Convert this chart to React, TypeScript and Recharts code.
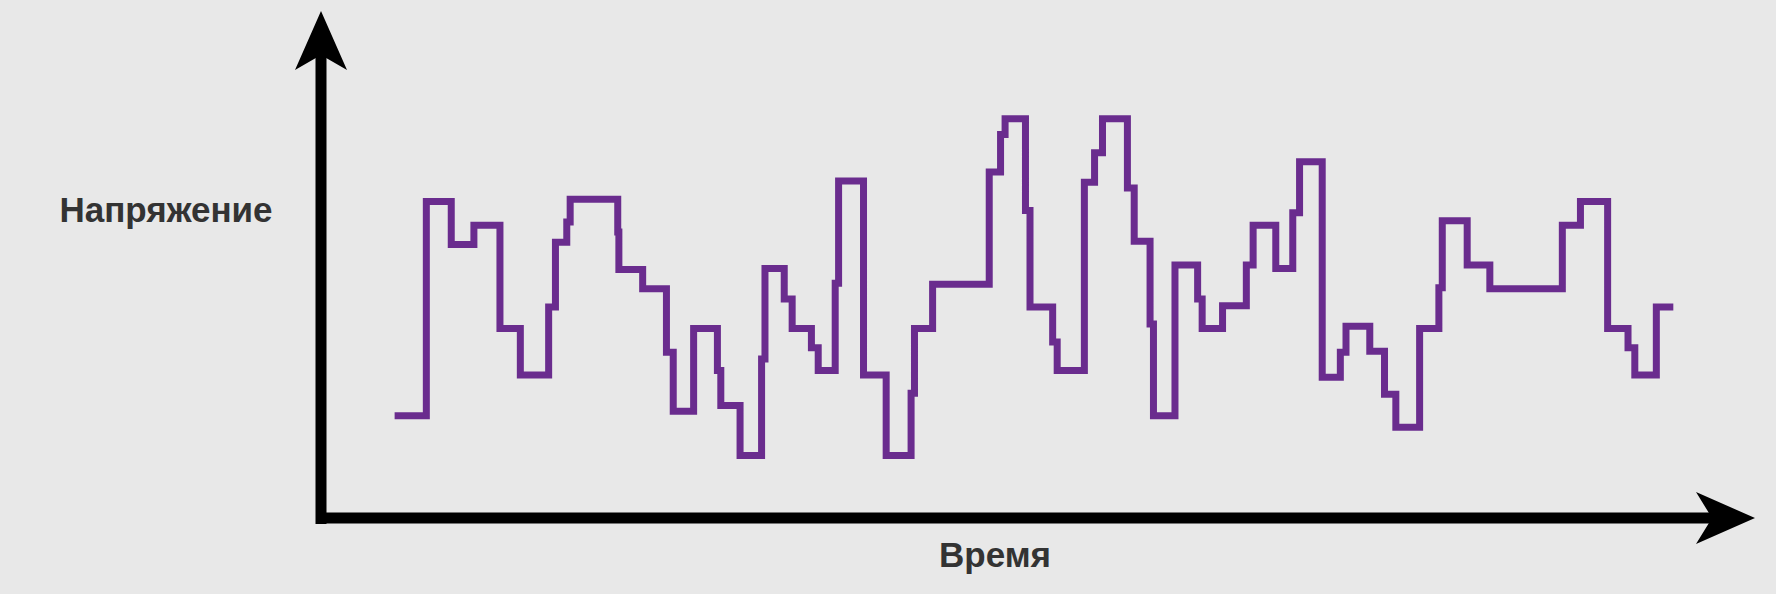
import { LineChart, Line, XAxis, YAxis } from 'recharts'

// time stamps where the level changes
const times = [
  348, 376, 398, 418, 441, 459, 484, 490, 500, 503, 545, 546, 567, 588, 594, 612, 633, 636, 653, 672,
  675, 692, 699, 716, 722, 737, 740, 762, 782, 804, 807, 823, 873, 883, 887, 905, 909, 929, 933, 957,
  966, 973, 995, 1001, 1015, 1018, 1037, 1057, 1061, 1079, 1100, 1106, 1126, 1141, 1147, 1167, 1183,
  1188, 1209, 1222, 1232, 1253, 1270, 1273, 1295, 1315, 1379, 1395, 1419, 1437, 1443, 1462, 1477,
]
// voltage level from each time stamp on
const levels = [
  91, 280, 242, 259, 168, 127, 187, 244, 262, 282, 253, 220, 203, 147, 95, 168, 131, 100, 56, 141,
  221, 194, 168, 151, 131, 208, 298, 127, 56, 111, 168, 207, 306, 339, 353, 272, 187, 156, 131, 297,
  323, 353, 292, 245, 172, 91, 224, 194, 168, 188, 224, 259, 221, 270, 315, 125, 147, 170, 148, 110,
  81, 168, 204, 263, 224, 203, 259, 280, 168, 151, 127, 187, 187,
]

const data = times.map((t, i) => ({ t, v: levels[i] }))

export default function App() {
  return (
    <div style={{ position: 'fixed', left: 0, top: 0, width: 1776, height: 594, background: '#e8e8e8' }}>
      <LineChart width={1776} height={594} data={data} margin={{ top: 11, right: 20, left: 321, bottom: 75 }}>
        <XAxis type="number" dataKey="t" domain={[283, 1550]} hide />
        <YAxis type="number" domain={[0, 448]} hide />
        <Line type="stepAfter" dataKey="v" stroke="#6a2c8e" strokeWidth={7} dot={false}
          strokeLinejoin="miter" strokeLinecap="butt" isAnimationActive={false} />
      </LineChart>
      <svg width={1776} height={594} style={{ position: 'absolute', left: 0, top: 0, pointerEvents: 'none' }}>
        <line x1={321} y1={40} x2={321} y2={524} stroke="#000" strokeWidth={11} />
        <line x1={316} y1={518} x2={1720} y2={518} stroke="#000" strokeWidth={11} />
        <polygon points="321,11 295,70 321,55 347,70" fill="#000" />
        <polygon points="1755,518 1696,492 1712,518 1696,544" fill="#000" />
        <text x={166} y={222} textAnchor="middle" fontFamily="Arial, 'Liberation Sans', sans-serif"
          fontWeight="bold" fontSize={35} fill="#333">Напряжение</text>
        <text x={995} y={567} textAnchor="middle" fontFamily="Arial, 'Liberation Sans', sans-serif"
          fontWeight="bold" fontSize={35} fill="#333">Время</text>
      </svg>
    </div>
  )
}
